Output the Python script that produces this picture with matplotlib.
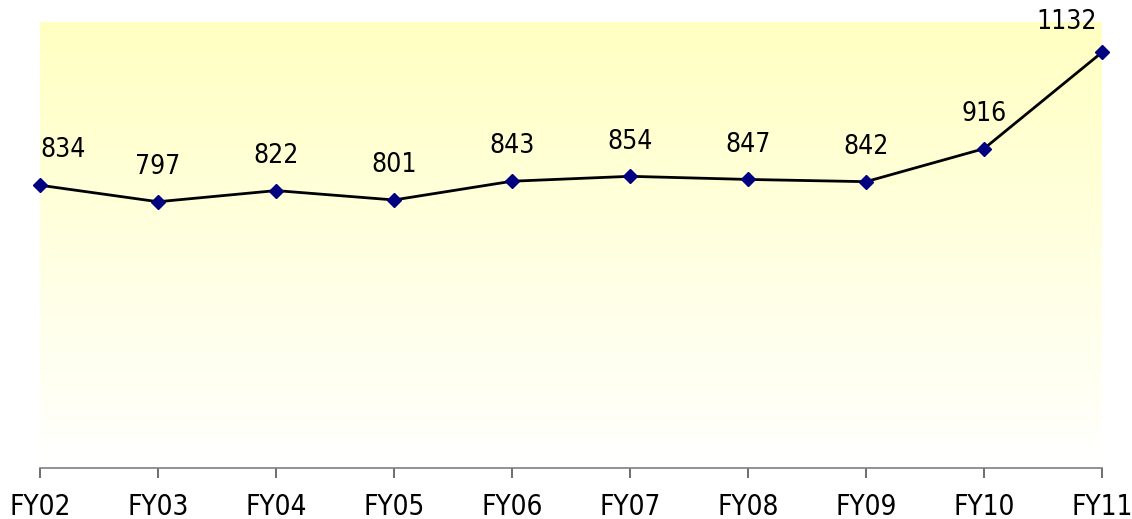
import matplotlib
matplotlib.use("Agg")
import matplotlib.pyplot as plt
import numpy as np
from matplotlib.colors import LinearSegmentedColormap

categories = ["FY02", "FY03", "FY04", "FY05", "FY06", "FY07", "FY08", "FY09", "FY10", "FY11"]
values = [834, 797, 822, 801, 843, 854, 847, 842, 916, 1132]

plt.rcParams['font.family'] = ['Liberation Sans', 'DejaVu Sans']

W, H = 1132, 519
fig = plt.figure(figsize=(W / 100, H / 100), dpi=100)
left, right, top, bottom = 40, 1102, 22, 468
ax = fig.add_axes([left / W, (H - bottom) / H, (right - left) / W, (bottom - top) / H])

ymin, ymax = 200, 1200
x = np.arange(len(categories))
ax.set_xlim(0, len(categories) - 1)
ax.set_ylim(ymin, ymax)

cmap = LinearSegmentedColormap.from_list("bg", ["#FFFFFF", "#FFFFC2"])
grad = np.linspace(0, 1, 256).reshape(-1, 1)
ax.imshow(grad, cmap=cmap, origin="lower", aspect="auto",
          extent=[0, len(categories) - 1, ymin, ymax], zorder=0)

ax.plot(x, values, color="black", lw=2, zorder=2, clip_on=False)
ax.plot(x, values, linestyle="none", marker="D", markersize=7.5,
        color="#000080", zorder=3, clip_on=False)

for i, v in enumerate(values):
    ha = "center"
    dx, dy = 0, 20
    if i == 0:
        ha = "left"
    elif i == len(values) - 1:
        ha = "right"
        dx, dy = -4, 17
    ax.annotate(str(v), (x[i], v), xytext=(dx, dy), textcoords="offset points",
                ha=ha, va="baseline", fontsize=19, color="black", zorder=4,
                family=['DejaVu Sans'], stretch='condensed',
                annotation_clip=False)

for s in ["top", "right", "left"]:
    ax.spines[s].set_visible(False)
ax.spines["bottom"].set_color("#7f7f7f")
ax.spines["bottom"].set_linewidth(1.2)
ax.set_yticks([])
ax.set_xticks(x)
ax.set_xticklabels(categories, fontsize=20, family=['DejaVu Sans'], stretch='condensed')
ax.tick_params(axis="x", direction="out", length=7, width=1.2, color="#555555", pad=11)

fig.savefig("out.png", dpi=100)
